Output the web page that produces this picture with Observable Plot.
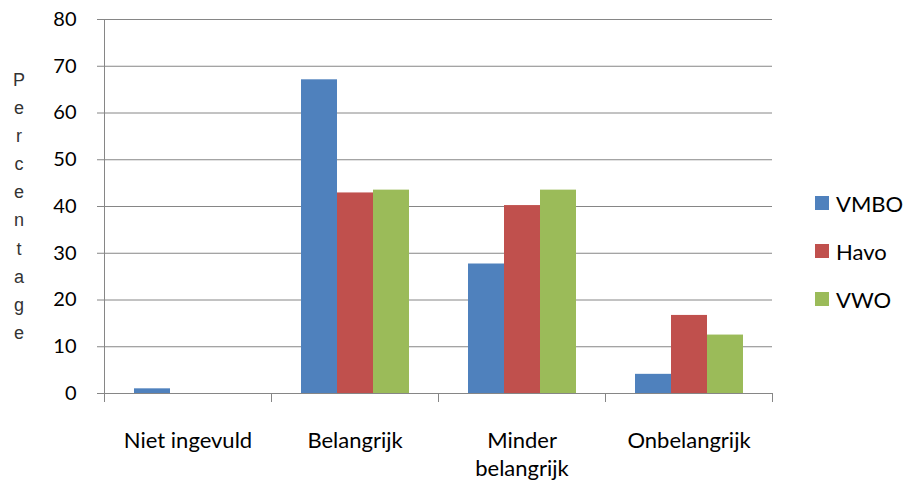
<!DOCTYPE html>
<html>
<head>
<meta charset="utf-8">
<script src="https://cdn.jsdelivr.net/npm/d3@7"></script>
<script src="https://cdn.jsdelivr.net/npm/@observablehq/plot@0.6"></script>
<style>
  html, body { margin: 0; padding: 0; background: #fff; }
  #wrap { position: relative; width: 909px; height: 485px; overflow: hidden; background: #fff; }
  #wrap svg { position: absolute; left: 0; top: 0; }
  #ylabel { position: absolute; left: 8px; top: 66px; width: 22px; text-align: center;
            font-family: "Liberation Sans", Arial, sans-serif; font-size: 18px; line-height: 28.1px;
            color: #333; white-space: pre; }
  .lg { position: absolute; left: 815px; height: 24px; display: flex; align-items: center;
        font-family: Lato, sans-serif; font-size: 22px; color: #000; }
  .lg span.sw { display: inline-block; width: 14px; height: 14px; margin-right: 7px; }
</style>
</head>
<body>
<div id="wrap"></div>
<script>
const categories = ["Niet ingevuld", "Belangrijk", "Minder belangrijk", "Onbelangrijk"];
const series = ["VMBO", "Havo", "VWO"];
const vmbo = [1.0, 67.1, 27.7, 4.1];
const havo = [0, 42.9, 40.2, 16.7];
const vwo  = [0, 43.5, 43.5, 12.5];
const yTicks = [0, 10, 20, 30, 40, 50, 60, 70, 80];
const colors = ["#4F81BD", "#C0504D", "#9BBB59"];
const yLabel = "Percentage";
const tickLabels = {"Minder belangrijk": "Minder\nbelangrijk"};

const values = [vmbo, havo, vwo];
const data = categories.flatMap((c, i) => series.map((s, j) => ({category: c, series: s, value: values[j][i]})));

const chart = Plot.plot({
  width: 909,
  height: 485,
  marginLeft: 104,
  marginRight: 137,
  marginTop: 19,
  marginBottom: 92,
  style: {fontFamily: "Lato, sans-serif", fontSize: "20px", color: "#000", background: "transparent", overflow: "visible"},
  fx: {domain: categories, paddingInner: 0, paddingOuter: 0, label: null, axis: null},
  x: {domain: series, paddingInner: 0, paddingOuter: 0.777, axis: null},
  y: {domain: [0, 80], label: null, axis: null},
  color: {domain: series, range: colors},
  marks: [
    Plot.ruleY(yTicks, {y: d => d, stroke: "#868686", strokeWidth: 1}),
    Plot.barY(data, {fx: "category", x: "series", y: "value", fill: "series"}),
    Plot.axisY({ticks: yTicks, tickSize: 7, tickPadding: 21, stroke: "#868686", fill: "#000", fontSize: 20, label: null}),
    Plot.axisFx({domain: categories, anchor: "bottom", tickSize: 0, tickPadding: 34, fontSize: 22, lineHeight: 1.3,
                 fill: "#000", label: null, tickFormat: d => tickLabels[d] ?? d})
  ]
});

const wrap = document.getElementById("wrap");
wrap.appendChild(chart);

// axis line and category boundary ticks, placed with the chart's own scales
const fx = chart.scale("fx");
const y = chart.scale("y");
const svg = d3.select(chart);
const y0 = y.apply(0), yTop = y.apply(80);
const edges = categories.map(c => fx.apply(c)).concat([fx.apply(categories[categories.length - 1]) + fx.bandwidth]);
const g = svg.append("g").attr("stroke", "#868686").attr("stroke-width", 1);
g.append("line").attr("x1", edges[0] + 0.5).attr("x2", edges[0] + 0.5).attr("y1", yTop).attr("y2", y0 + 9);
edges.slice(1).forEach(x => {
  g.append("line").attr("x1", Math.round(x) + 0.5).attr("x2", Math.round(x) + 0.5).attr("y1", y0).attr("y2", y0 + 9);
});

// vertical stacked y label
const yl = document.createElement("div");
yl.id = "ylabel";
yl.textContent = yLabel.split("").join("\n");
wrap.appendChild(yl);

// legend
series.forEach((s, i) => {
  const d = document.createElement("div");
  d.className = "lg";
  d.style.top = (191 + i * 48) + "px";
  const sw = document.createElement("span");
  sw.className = "sw";
  sw.style.background = colors[i];
  d.appendChild(sw);
  d.appendChild(document.createTextNode(s));
  wrap.appendChild(d);
});
</script>
</body>
</html>
